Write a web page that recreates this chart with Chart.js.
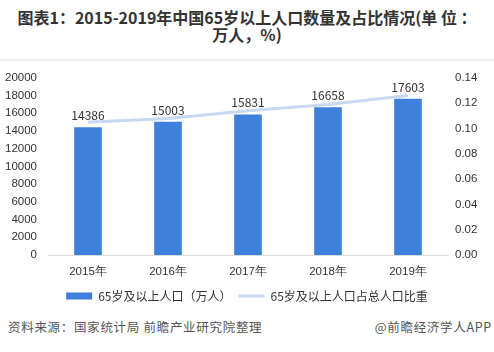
<!DOCTYPE html>
<html><head><meta charset="utf-8">
<script src="https://cdn.jsdelivr.net/npm/chart.js@4"></script>
<style>
html,body{margin:0;padding:0;background:#fff;width:494px;height:352px;overflow:hidden;font-family:"Noto Sans CJK SC","Noto Sans",sans-serif;}
#title{position:absolute;left:4px;top:9px;width:486px;text-align:center;font-weight:bold;font-size:16px;line-height:17px;color:#333;}
#sep{position:absolute;left:0;top:59px;width:494px;height:2px;background:#ececf2;}
#wrap{position:absolute;left:0;top:60px;width:494px;height:252px;}
#src{position:absolute;left:8px;top:317px;font-size:12.5px;color:#555;letter-spacing:0.7px;}
#app{position:absolute;right:2px;top:317px;font-size:12.5px;color:#555;letter-spacing:0.7px;}
</style></head>
<body>
<div id="title">图表1：2015-2019年中国65岁以上人口数量及占比情况(单 位 ：<br>万人，%)</div>
<div id="sep"></div>
<div id="wrap"><canvas id="c" width="494" height="252"></canvas></div>
<div id="src">资料来源：国家统计局 前瞻产业研究院整理</div>
<div id="app">@前瞻经济学人APP</div>
<script>
const categories = ["2015年","2016年","2017年","2018年","2019年"];
const population = [14386, 15003, 15831, 16658, 17603];
const share = [0.105, 0.108, 0.114, 0.119, 0.126];
const seriesNames = ["65岁及以上人口（万人）","65岁及以上人口占总人口比重"];

const barLabels = {
  id:'barLabels',
  afterDatasetsDraw(chart){
    const ctx = chart.ctx;
    const meta = chart.getDatasetMeta(1);
    ctx.save();
    ctx.font = '12px "Noto Sans CJK SC","Noto Sans",sans-serif';
    ctx.fillStyle = '#333';
    ctx.textAlign = 'center';
    ctx.textBaseline = 'middle';
    meta.data.forEach((el,i)=>{
      ctx.fillText(String(population[i]), el.x, el.y - 12);
    });
    ctx.restore();
  }
};

new Chart(document.getElementById('c'), {
  data:{
    labels: categories,
    datasets:[
      {type:'line', label:seriesNames[1], data:share, yAxisID:'y1', borderColor:'#c6d9f0', backgroundColor:'#c6d9f0', borderWidth:3, pointRadius:0, tension:0, order:0, pointStyle:'line'},
      {type:'bar', label:seriesNames[0], data:population, yAxisID:'y', backgroundColor:'#3f80dc', barThickness:27, order:1, pointStyle:'rect'}
    ]
  },
  options:{
    responsive:false, animation:false,
    layout:{padding:{top:16,left:0,right:0,bottom:0}},
    plugins:{
      legend:{position:'bottom', reverse:true,
        labels:{usePointStyle:true, pointStyleWidth:26, boxHeight:7, color:'#333', padding:7,
          font:{size:12, family:'"Noto Sans CJK SC","Noto Sans",sans-serif'}}},
      tooltip:{enabled:false}
    },
    scales:{
      x:{grid:{display:false, drawTicks:false}, border:{color:'#d9d9d9'},
         ticks:{color:'#333', font:{size:11.5}, padding:10},
         afterFit:s=>{s.height=28;}},
      y:{position:'left', min:0, max:20000,
         ticks:{stepSize:2000, color:'#333', font:{size:11.5}, padding:11, callback:v=>String(v)},
         grid:{display:false, drawTicks:false}, border:{display:false}, afterFit:s=>{s.width=48;}},
      y1:{position:'right', min:0, max:0.14,
         ticks:{stepSize:0.02, color:'#333', font:{size:11.5}, padding:7, callback:v=>Number(v).toFixed(2)},
         grid:{display:false, drawTicks:false}, border:{display:false}, afterFit:s=>{s.width=46;}}
    }
  },
  plugins:[barLabels]
});
</script>
</body></html>
